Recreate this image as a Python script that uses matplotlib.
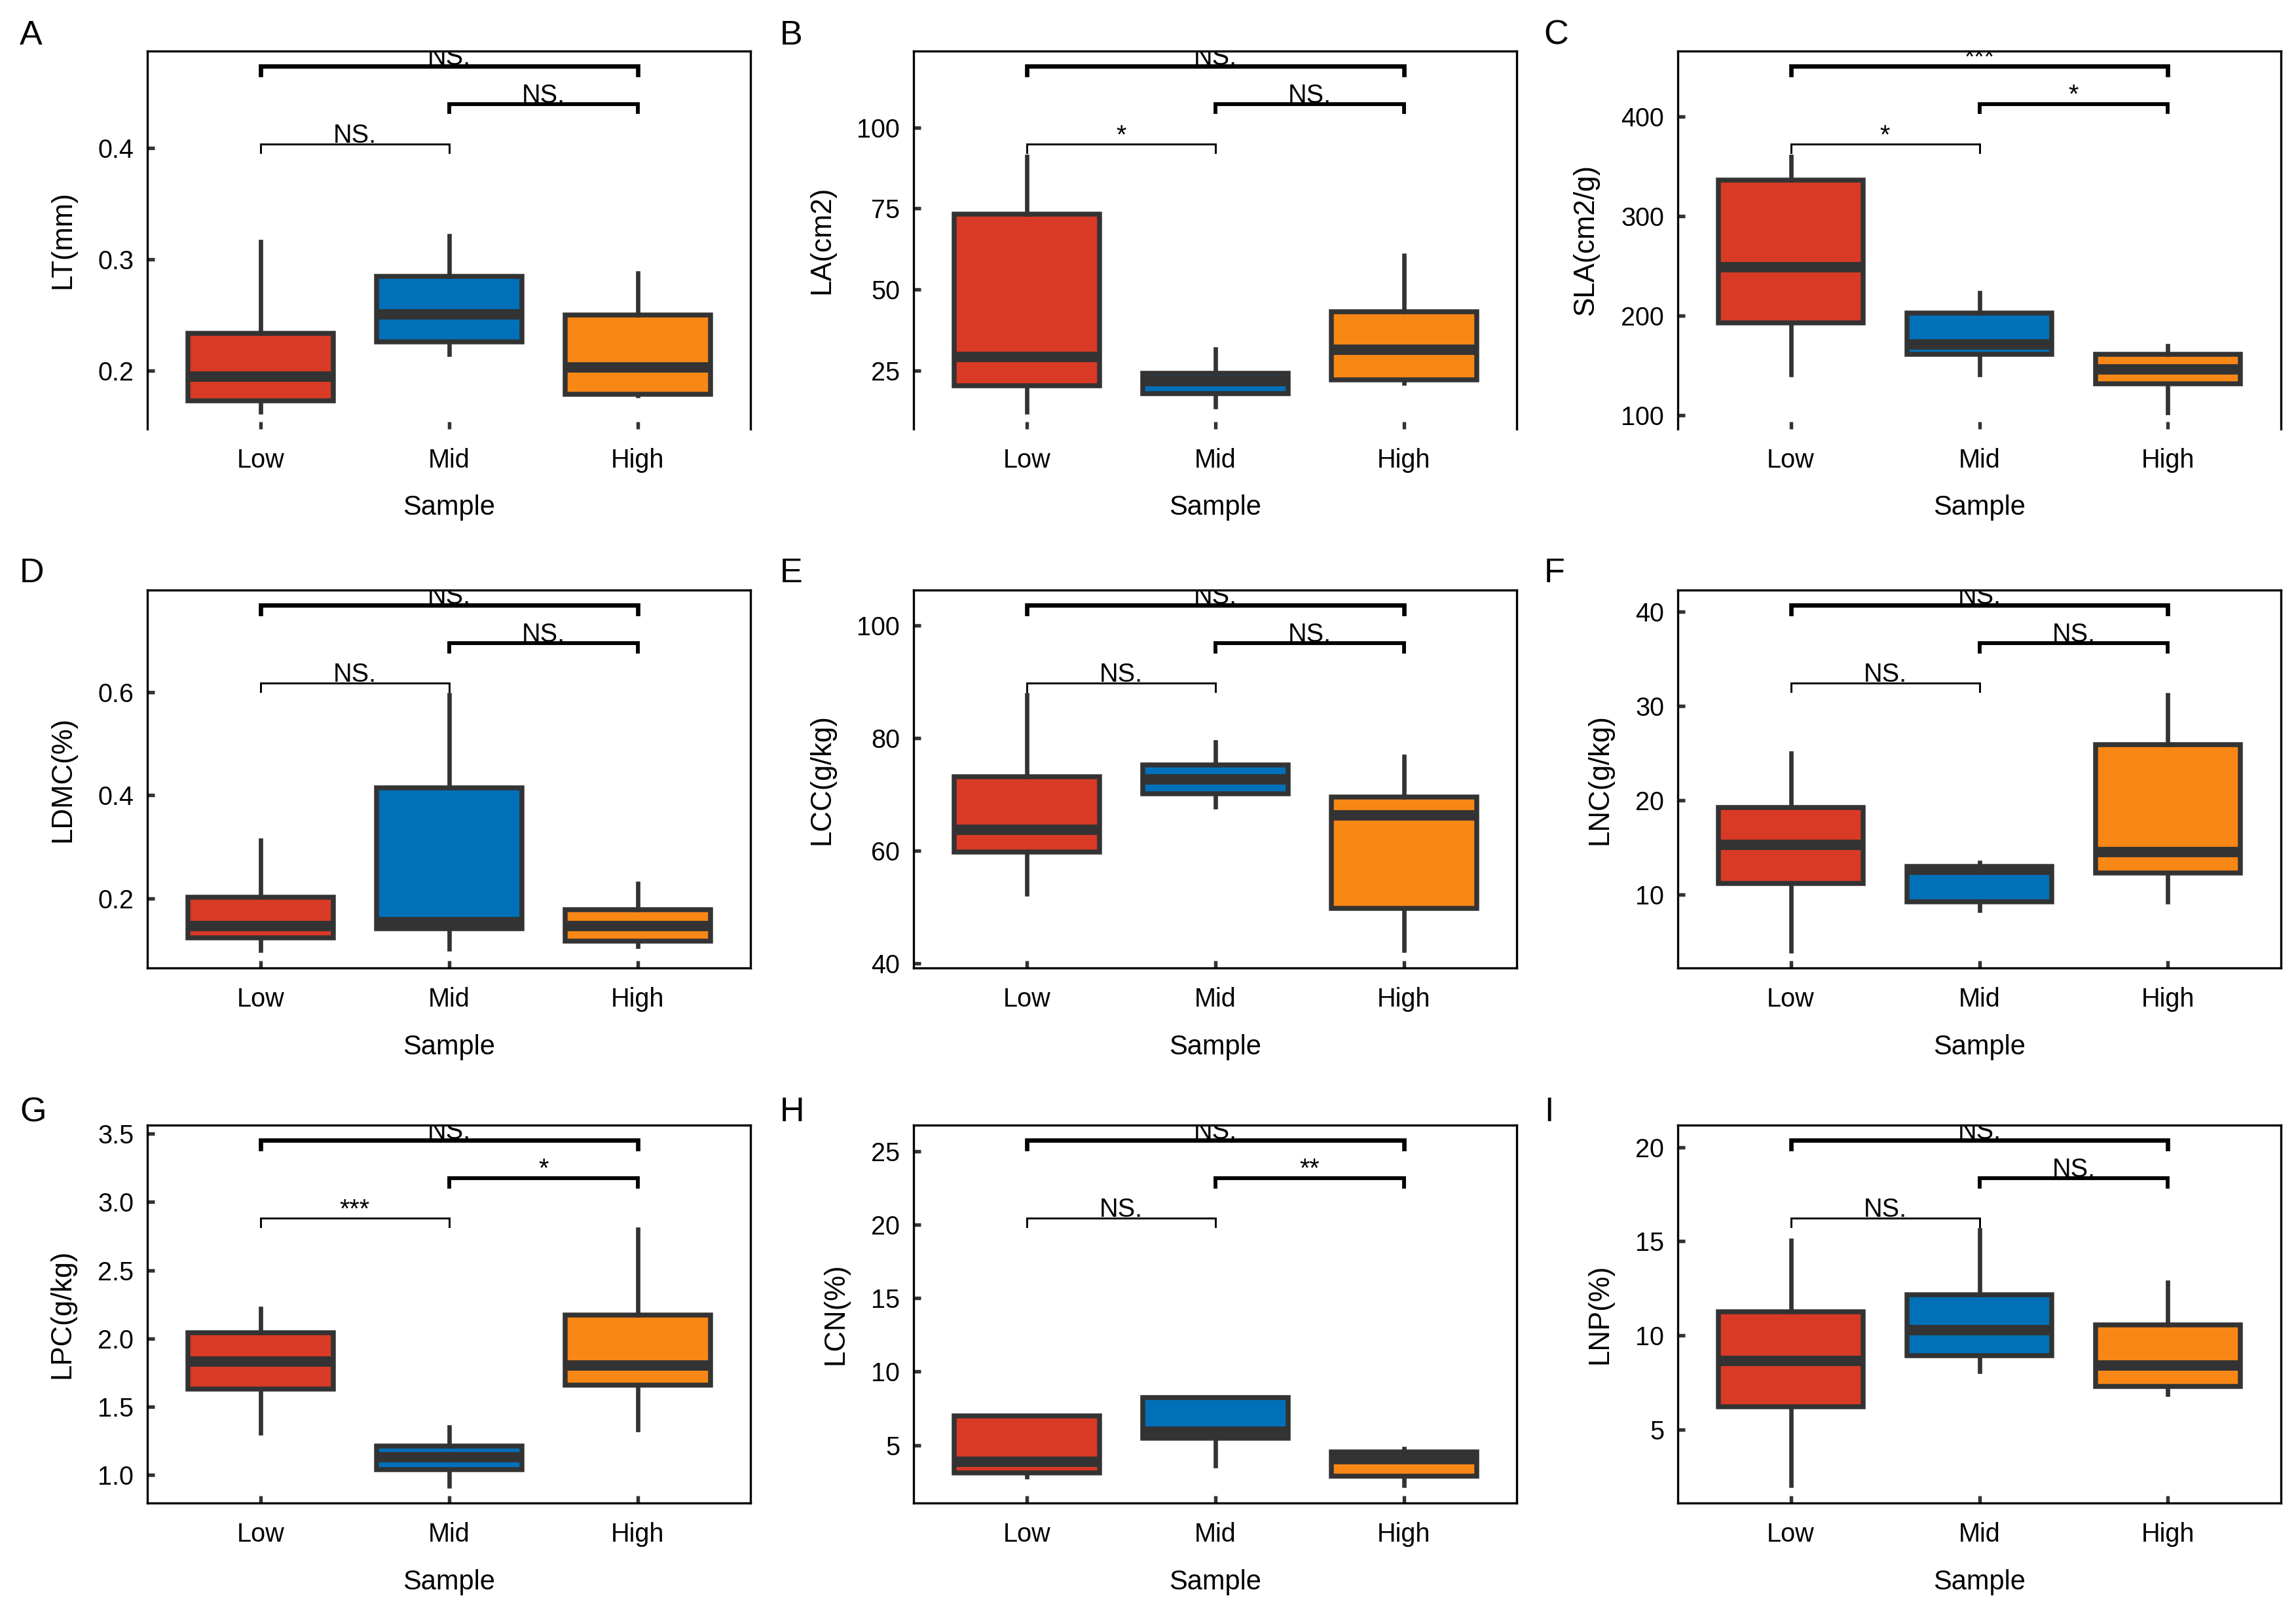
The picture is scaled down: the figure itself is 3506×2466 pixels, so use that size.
import matplotlib
matplotlib.use('Agg')
import matplotlib.pyplot as plt
from matplotlib.transforms import blended_transform_factory

plt.rcParams['font.family'] = ['Liberation Sans', 'DejaVu Sans']
NARROW = ['Liberation Sans Narrow', 'Liberation Sans', 'DejaVu Sans']

# %%
categories = ['Low', 'Mid', 'High']
box_colors = ['#D93A26', '#0071B9', '#F88716']
panel_letters = ['A', 'B', 'C', 'D', 'E', 'F', 'G', 'H', 'I']
y_labels = ['LT(mm)', 'LA(cm2)', 'SLA(cm2/g)', 'LDMC(%)', 'LCC(g/kg)',
            'LNC(g/kg)', 'LPC(g/kg)', 'LCN(%)', 'LNP(%)']

# [lower whisker, Q1, median, Q3, upper whisker] for Low, Mid, High
lt = [[0.163, 0.173, 0.195, 0.234, 0.316],
      [0.215, 0.226, 0.251, 0.285, 0.321],
      [0.178, 0.179, 0.203, 0.250, 0.288]]
la = [[12.2, 20.4, 29.2, 73.2, 91.1],
      [13.9, 18.0, 21.7, 24.2, 31.6],
      [21.2, 22.2, 31.4, 43.2, 60.5]]
sla = [[141, 193, 249, 336, 360],
       [141, 161, 171, 203, 223],
       [103, 132, 146, 161, 170]]
ldmc = [[0.100, 0.124, 0.147, 0.203, 0.313],
        [0.103, 0.142, 0.155, 0.414, 0.595],
        [0.108, 0.118, 0.147, 0.179, 0.229]]
lcc = [[52.3, 59.8, 63.7, 73.1, 87.7],
       [67.8, 70.1, 72.7, 75.2, 79.3],
       [42.3, 49.8, 66.3, 69.5, 76.7]]
lnc = [[4.0, 11.2, 15.3, 19.2, 25.0],
       [8.3, 9.2, 12.6, 13.0, 13.4],
       [9.2, 12.3, 14.5, 25.9, 31.2]]
lpc = [[1.31, 1.63, 1.83, 2.04, 2.22],
       [0.92, 1.04, 1.13, 1.21, 1.35],
       [1.33, 1.66, 1.80, 2.17, 2.80]]
lcn = [[2.85, 3.13, 3.88, 7.00, 7.00],
       [3.60, 5.47, 5.90, 8.22, 8.22],
       [2.27, 2.90, 4.07, 4.55, 4.77]]
lnp = [[2.05, 6.20, 8.64, 11.27, 15.04],
       [8.11, 8.92, 10.28, 12.16, 15.62],
       [6.88, 7.28, 8.42, 10.57, 12.81]]
panel_data = [lt, la, sla, ldmc, lcc, lnc, lpc, lcn, lnp]

y_limits = [(0.148, 0.487), (7.0, 123.6), (86.3, 466), (0.066, 0.797), (39.15, 106.3),
            (2.2, 42.3), (0.794, 3.563), (1.06, 26.77), (1.10, 21.17)]
y_ticks = [[0.2, 0.3, 0.4], [25, 50, 75, 100], [100, 200, 300, 400], [0.2, 0.4, 0.6],
           [40, 60, 80, 100], [10, 20, 30, 40], [1.0, 1.5, 2.0, 2.5, 3.0, 3.5],
           [5, 10, 15, 20, 25], [5, 10, 15, 20]]
tick_fmt = ['{:.1f}', '{:.0f}', '{:.0f}', '{:.1f}', '{:.0f}', '{:.0f}', '{:.1f}', '{:.0f}', '{:.0f}']

# significance labels: Low-Mid, Mid-High, Low-High
sig_low_mid = ['NS.', '*', '*', 'NS.', 'NS.', 'NS.', '***', 'NS.', 'NS.']
sig_mid_high = ['NS.', 'NS.', '*', 'NS.', 'NS.', 'NS.', '*', '**', 'NS.']
sig_low_high = ['NS.', 'NS.', '***', 'NS.', 'NS.', 'NS.', 'NS.', 'NS.', 'NS.']

# %%
fig = plt.figure(figsize=(3506 / 300, 2466 / 300), dpi=300)

col_left = [0.0642, 0.3979, 0.7307]
row_bottom = [0.7344, 0.4006, 0.0693]
ax_w, ax_h = 0.2628, 0.234
letter_x = [0.0086, 0.3395, 0.6725]
letter_y = [0.988, 0.655, 0.321]
dark = '#333333'

for i in range(9):
    r, c = divmod(i, 3)
    ax = fig.add_axes([col_left[c], row_bottom[r], ax_w, ax_h])
    stats = [dict(whislo=s[0], q1=s[1], med=s[2], q3=s[3], whishi=s[4], fliers=[])
             for s in panel_data[i]]
    bp = ax.bxp(stats, positions=[0, 1, 2], widths=0.77, patch_artist=True,
                showcaps=False, showfliers=False,
                boxprops=dict(edgecolor=dark, linewidth=1.8),
                medianprops=dict(color=dark, linewidth=3.8, solid_capstyle='butt'),
                whiskerprops=dict(color=dark, linewidth=1.6))
    for patch, col in zip(bp['boxes'], box_colors):
        patch.set_facecolor(col)

    ax.set_xlim(-0.6, 2.6)
    ax.set_ylim(*y_limits[i])
    ax.set_yticks(y_ticks[i])
    ax.set_yticklabels([tick_fmt[i].format(v) for v in y_ticks[i]], family=NARROW, fontsize=9.5)
    ax.set_xticks([0, 1, 2])
    ax.set_xticklabels(categories, family=NARROW, fontsize=9.5)
    ax.tick_params(axis='both', direction='in', length=2.6, width=1.3, color=dark)
    ax.tick_params(axis='x', pad=7)
    ax.tick_params(axis='y', pad=5)
    for sp in ax.spines.values():
        sp.set_linewidth(0.8)
    if r == 0:
        ax.spines['bottom'].set_visible(False)

    ax.set_xlabel('Sample', family=NARROW, fontsize=10, labelpad=8)
    ax.set_ylabel(y_labels[i], fontsize=10.5, labelpad=8)

    # significance brackets
    trans = blended_transform_factory(ax.transData, ax.transAxes)
    for (x0, x1), lvl, lw, lab in [((0, 1), 0.754, 0.7, sig_low_mid[i]),
                                    ((1, 2), 0.86, 1.4, sig_mid_high[i]),
                                    ((0, 2), 0.96, 1.6, sig_low_high[i])]:
        ax.plot([x0, x0, x1, x1], [lvl - 0.022, lvl, lvl, lvl - 0.022], color='black',
                lw=lw, transform=trans, clip_on=False, solid_joinstyle='miter')
        ax.text((x0 + x1) / 2, lvl + 0.003, lab, transform=trans, ha='center', va='baseline',
                family=NARROW, fontsize=9.5, clip_on=True)

    fig.text(letter_x[c], letter_y[r], panel_letters[i], fontsize=12.5, ha='left', va='top')

fig.savefig('out.png', dpi=300)
